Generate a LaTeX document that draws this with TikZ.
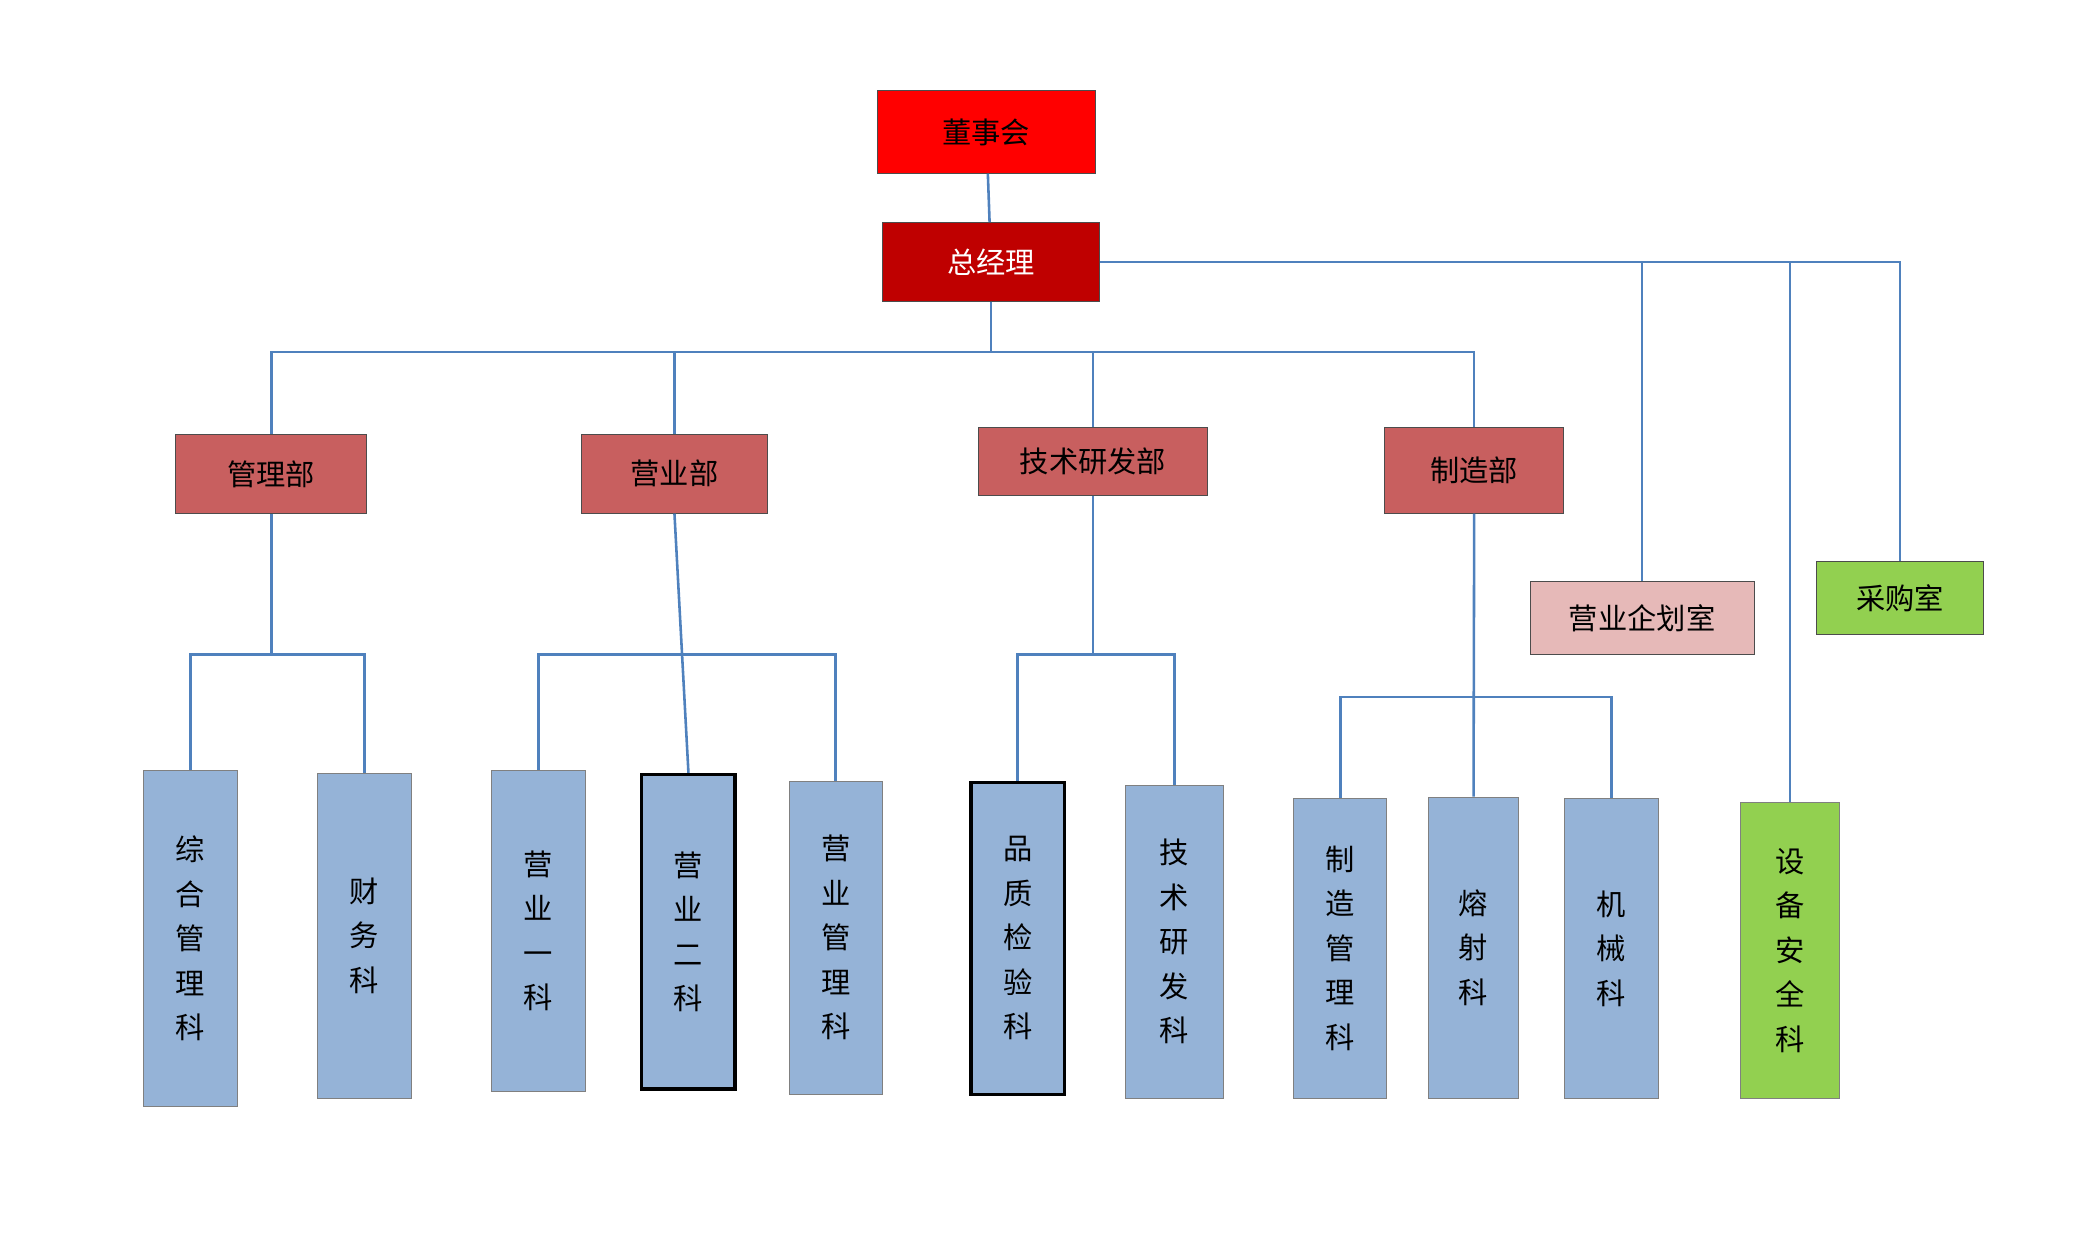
\documentclass[tikz,border=0pt]{standalone}
\usepackage{fontspec}
\setmainfont{Noto Sans CJK SC}
\usetikzlibrary{positioning}
\definecolor{lineblue}{RGB}{79,129,189}
\definecolor{deptred}{RGB}{200,95,95}
\definecolor{leafblue}{RGB}{149,179,215}
\definecolor{planpink}{RGB}{230,185,184}
\definecolor{buygreen}{RGB}{146,208,80}
\begin{document}
\begin{tikzpicture}[x=0.02cm, y=-0.02cm,
			every node/.style={draw=black!70, inner sep=0pt, font=\fontsize{12.5}{19}\selectfont, align=center},
			dept/.style={fill=deptred},
			leaf/.style={fill=leafblue, draw=black!50, minimum width=1.4cm},
			link/.style={draw=lineblue, line width=1.1pt}]
		\useasboundingbox (0,0) rectangle (1556,940);
		\node[fill=red, minimum width=3.28cm, minimum height=1.24cm]   (dsh) at (740,99) {董事会};
		\node[fill=red!75!black, text=white, minimum width=3.26cm, minimum height=1.18cm] (zjl) at (743.5,196.5) {总经理};

		\node[dept, minimum width=2.86cm, minimum height=1.18cm] (glb) at (203.5,355.5) {管理部};
		\node[dept, minimum width=2.80cm, minimum height=1.18cm] (yyb) at (506,355.5) {营业部};
		\node[dept, minimum width=3.44cm, minimum height=1.02cm] (jsb) at (820,346.5) {技术研发部};
		\node[dept, minimum width=2.68cm, minimum height=1.28cm] (zzb) at (1106,353) {制造部};
		\node[fill=planpink, minimum width=3.36cm, minimum height=1.10cm] (yqs) at (1232,463.5) {营业企划室};
		\node[fill=buygreen, minimum width=2.50cm, minimum height=1.10cm] (cgs) at (1425.5,448.5) {采购室};

		\node[leaf, minimum height=5.04cm] (zh) at (143,704) {综\\合\\管\\理\\科};
		\node[leaf, minimum height=4.88cm] (cw) at (273.5,702) {财\\务\\科};
		\node[leaf, minimum height=4.82cm] (y1) at (404,698.5) {营\\业\\一\\科};
		\node[leaf, minimum height=4.72cm, draw=black, line width=1.4pt] (y2) at (516.5,699) {营\\业\\二\\科};
		\node[leaf, minimum height=4.70cm] (yg) at (627,703.5) {营\\业\\管\\理\\科};
		\node[leaf, minimum height=4.68cm, draw=black, line width=1.4pt] (pz) at (763.5,704) {品\\质\\检\\验\\科};
		\node[leaf, minimum width=1.48cm, minimum height=4.70cm] (js) at (881,706.5) {技\\术\\研\\发\\科};
		\node[leaf, minimum height=4.50cm] (zg) at (1005.5,711.5) {制\\造\\管\\理\\科};
		\node[leaf, minimum width=1.34cm, minimum height=4.52cm] (rs) at (1105.5,711) {熔\\射\\科};
		\node[leaf, minimum height=4.50cm] (jx) at (1209,711.5) {机\\械\\科};
		\node[leaf, fill=buygreen, minimum width=1.48cm, minimum height=4.44cm] (sb) at (1343,713) {设\\备\\安\\全\\科};

		\coordinate (bar) at (0,264);
		\draw[link] (dsh) -- (zjl);
		\draw[link] (zjl.south) -- (zjl.south |- bar);
		\draw[link] (glb.north) |- (zzb.north |- bar) -- (zzb.north);
		\foreach \n in {yyb, jsb}
			\draw[link] (\n.north) -- (\n.north |- bar);
		\draw[link] (zjl.east) -| (cgs.north);
		\foreach \n in {yqs, sb}
			\draw[link] (\n.north) -- (\n.north |- zjl.east);

		\draw[link] (glb.south) -- (glb.south |- 0,491);
		\draw[link] (zh.north) |- (cw.north |- 0,491) -- (cw.north);
		\draw[link] (yyb.south) -- (y2.north);
		\draw[link] (y1.north) |- (yg.north |- 0,491) -- (yg.north);
		\draw[link] (jsb.south) -- (jsb.south |- 0,491);
		\draw[link] (pz.north) |- (js.north |- 0,491) -- (js.north);
		\draw[link] (zzb.south) -- (rs.north);
		\draw[link] (zg.north) |- (jx.north |- 0,523) -- (jx.north);
	\end{tikzpicture}
\end{document}
